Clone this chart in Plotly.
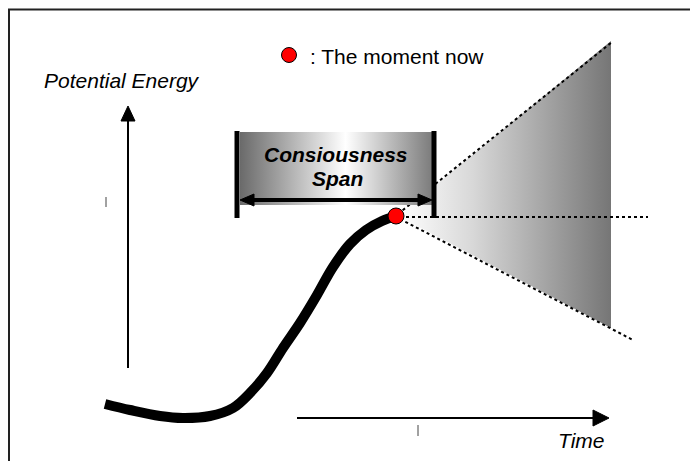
import plotly.graph_objects as go

# Canvas (pixel-like diagram coordinates, y grows downward)
W, H = 698, 461
OFF = 8  # page body margin of the browser

# S-shaped potential energy curve
curve_x = [105, 130, 160, 183, 210, 233, 250, 267, 283, 300, 317, 333, 350, 366, 382, 396]
curve_y = [404, 410, 416, 418, 416, 408, 393, 373, 348, 323, 295, 267, 244, 230, 221, 216]

# The moment now
now_x, now_y = 396, 216

# Fan of possible futures
fan_x = [398, 611, 611, 398]
fan_y = [216, 41, 328, 216]
upper_x, upper_y = [398, 612], [214, 42]
mid_x, mid_y = [400, 648], [217, 217]
lower_x, lower_y = [400, 633], [219, 340]

# Consciousness span box
box_x = [240, 432, 432, 240, 240]
box_y = [132, 132, 205, 205, 132]
bar_left_x, bar_right_x = 237, 434
bar_top, bar_bot = 131, 218
span_y = 200

# Axes arrows
vaxis_x, vaxis_top, vaxis_bot = 128, 106, 368
haxis_y, haxis_left, haxis_right = 418, 297, 609

# Frame
frame_x, frame_y = [9, 9, W + OFF], [H + OFF, 9.5, 9.5]

fig = go.Figure()

# fan
fig.add_trace(go.Scatter(x=fan_x, y=fan_y, mode="lines", fill="toself",
                         line=dict(width=0, color="rgba(0,0,0,0)"),
                         fillgradient=dict(type="horizontal",
                                           colorscale=[[0, "#ffffff"], [0.35, "#d8d8d8"], [1, "#767676"]]),
                         hoverinfo="skip"))
for xs, ys in [(upper_x, upper_y), (mid_x, mid_y), (lower_x, lower_y)]:
    fig.add_trace(go.Scatter(x=xs, y=ys, mode="lines",
                             line=dict(color="black", width=2, dash="3px,3px"), hoverinfo="skip"))

# box with gradient
fig.add_trace(go.Scatter(x=box_x, y=box_y, mode="lines", fill="toself",
                         line=dict(width=0, color="rgba(0,0,0,0)"),
                         fillgradient=dict(type="horizontal",
                                           colorscale=[[0, "#6a6a6a"], [0.55, "#ffffff"], [1, "#7c7c7c"]]),
                         hoverinfo="skip"))
for bx in [bar_left_x, bar_right_x]:
    fig.add_trace(go.Scatter(x=[bx, bx], y=[bar_top, bar_bot], mode="lines",
                             line=dict(color="black", width=5), hoverinfo="skip"))
# double arrow
fig.add_trace(go.Scatter(x=[252, 420], y=[span_y, span_y], mode="lines",
                         line=dict(color="black", width=4), hoverinfo="skip"))
fig.add_trace(go.Scatter(x=[240, 254, 254, 240], y=[span_y, span_y - 6, span_y + 6, span_y],
                         mode="lines", fill="toself", fillcolor="black",
                         line=dict(color="black", width=1), hoverinfo="skip"))
fig.add_trace(go.Scatter(x=[432, 418, 418, 432], y=[span_y, span_y - 6, span_y + 6, span_y],
                         mode="lines", fill="toself", fillcolor="black",
                         line=dict(color="black", width=1), hoverinfo="skip"))

# axes arrows
fig.add_trace(go.Scatter(x=[vaxis_x, vaxis_x], y=[vaxis_top + 12, vaxis_bot], mode="lines",
                         line=dict(color="black", width=2), hoverinfo="skip"))
fig.add_trace(go.Scatter(x=[vaxis_x - 7, vaxis_x + 7, vaxis_x, vaxis_x - 7],
                         y=[vaxis_top + 15, vaxis_top + 15, vaxis_top, vaxis_top + 15],
                         mode="lines", fill="toself", fillcolor="black",
                         line=dict(color="black", width=1), hoverinfo="skip"))
fig.add_trace(go.Scatter(x=[haxis_left, haxis_right - 12], y=[haxis_y, haxis_y], mode="lines",
                         line=dict(color="black", width=2), hoverinfo="skip"))
fig.add_trace(go.Scatter(x=[haxis_right - 16, haxis_right - 16, haxis_right, haxis_right - 16],
                         y=[haxis_y - 8, haxis_y + 8, haxis_y, haxis_y - 8],
                         mode="lines", fill="toself", fillcolor="black",
                         line=dict(color="black", width=1), hoverinfo="skip"))

# small ticks
fig.add_trace(go.Scatter(x=[106, 106], y=[197, 207], mode="lines",
                         line=dict(color="#444", width=1), hoverinfo="skip"))
fig.add_trace(go.Scatter(x=[418, 418], y=[425, 436], mode="lines",
                         line=dict(color="#444", width=1), hoverinfo="skip"))

# frame (top and left)
fig.add_trace(go.Scatter(x=frame_x, y=frame_y, mode="lines",
                         line=dict(color="#222", width=2), hoverinfo="skip"))

# curve
fig.add_trace(go.Scatter(x=curve_x, y=curve_y, mode="lines",
                         line=dict(color="black", width=10, shape="spline"), hoverinfo="skip"))

# now dot and legend dot
fig.add_trace(go.Scatter(x=[now_x, 289], y=[now_y, 55], mode="markers",
                         marker=dict(color="#ff0000", size=[16, 15], opacity=1,
                                     line=dict(color="black", width=1)), hoverinfo="skip"))

font = "Arial, Liberation Sans, sans-serif"
anns = [
    dict(x=122, y=80, text="<i>Potential Energy</i>", size=21),
    dict(x=581, y=440, text="<i>Time</i>", size=21),
    dict(x=397, y=56, text=": The moment now", size=21),
    dict(x=336, y=154, text="<b><i>Consiousness</i></b>", size=21),
    dict(x=337, y=178, text="<b><i>Span</i></b>", size=21),
]
for a in anns:
    fig.add_annotation(x=a["x"], y=a["y"], text=a["text"], showarrow=False,
                       xref="x", yref="y", xanchor="center", yanchor="middle",
                       font=dict(family=font, size=a["size"], color="black"))

fig.update_layout(
    width=W, height=H, margin=dict(l=0, r=0, t=0, b=0),
    paper_bgcolor="white", plot_bgcolor="white", showlegend=False,
    xaxis=dict(range=[OFF, W + OFF], visible=False, fixedrange=True),
    yaxis=dict(range=[H + OFF, OFF], visible=False, fixedrange=True),
)

fig.write_html("out.html")
